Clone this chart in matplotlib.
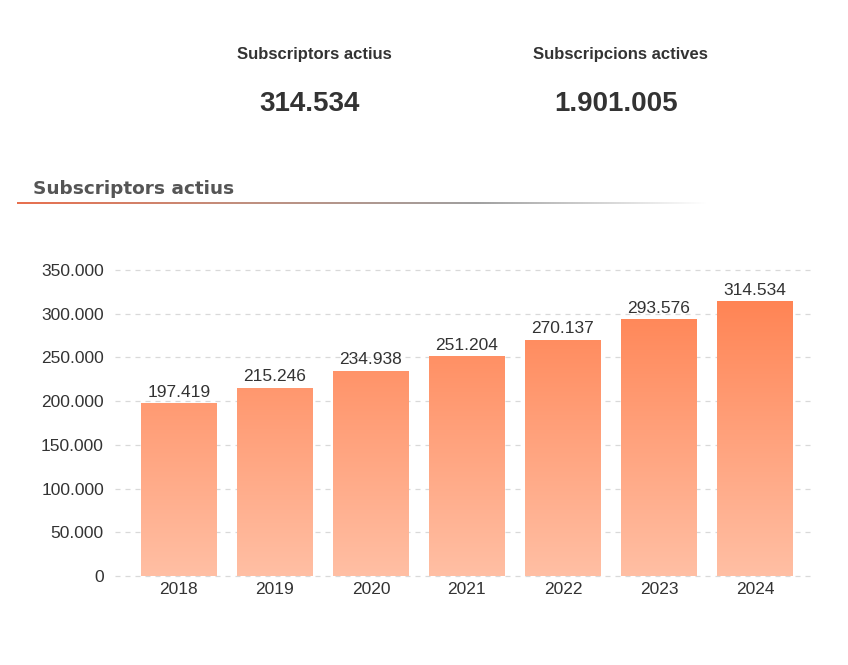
import numpy as np
import matplotlib.pyplot as plt
from matplotlib.colors import LinearSegmentedColormap
from matplotlib.ticker import FuncFormatter

years = ['2018', '2019', '2020', '2021', '2022', '2023', '2024']
subscribers = [197419, 215246, 234938, 251204, 270137, 293576, 314534]
kpi_labels = ['Subscriptors actius', 'Subscripcions actives']
kpi_values = ['314.534', '1.901.005']
section_title = 'Subscriptors actius'

plt.rcParams['font.family'] = ['Liberation Sans', 'DejaVu Sans']


def fmt_dots(v, pos=None):
    return '{:,.0f}'.format(v).replace(',', '.')


fig = plt.figure(figsize=(8.48, 6.65), dpi=100)
fig.patch.set_facecolor('white')

# KPI header (label x, value x in pixels)
kpi_pos = [(314, 310), (620, 616)]
for (lx, vx), lab, val in zip(kpi_pos, kpi_labels, kpi_values):
    fig.text(lx / 848, 1 - 55 / 665, lab, ha='center', va='center', fontsize=12,
             fontweight='bold', color='#333333')
    fig.text(vx / 848, 1 - 104 / 665, val, ha='center', va='center', fontsize=20,
             fontweight='bold', color='#333333')

# section title with gradient underline
fig.text(33 / 848, 1 - 189 / 665, section_title, ha='left', va='center',
         fontsize=13.3, fontweight='bold', color='#555555',
         family=['DejaVu Sans'])
line_ax = fig.add_axes([17 / 848, 1 - 204.5 / 665, 690 / 848, 2.5 / 665])
line_ax.axis('off')
line_cmap = LinearSegmentedColormap.from_list(
    'uline', ['#e8704f', '#c09080', '#a0a0a0', '#ffffff'])
line_ax.imshow(np.linspace(0, 1, 256).reshape(1, -1), cmap=line_cmap,
               aspect='auto', extent=[0, 1, 0, 1])

# bar chart
ax = fig.add_axes([115 / 848, 1 - 576 / 665, 700 / 848, 306 / 665])
x = np.arange(len(years))
bars = ax.bar(x, subscribers, width=0.79, color='none', edgecolor='none', zorder=2)

bar_cmap = LinearSegmentedColormap.from_list('bar', ['#ffbfa4', '#ff7e4c'])
grad = np.linspace(0, 1, 256).reshape(-1, 1)
for b in bars:
    x0 = b.get_x()
    w = b.get_width()
    im = ax.imshow(grad, cmap=bar_cmap, origin='lower', aspect='auto',
                   extent=[x0, x0 + w, 0, 350000], zorder=2)
    im.set_clip_path(b)

for xi, v in zip(x, subscribers):
    ax.text(xi, v + 4000, fmt_dots(v), ha='center', va='bottom',
            fontsize=12.5, color='#333333')

ax.set_xlim(-0.665, 6.625)
ax.set_ylim(0, 350000)
ax.set_yticks(np.arange(0, 350001, 50000))
ax.yaxis.set_major_formatter(FuncFormatter(fmt_dots))
ax.set_xticks(x)
ax.set_xticklabels(years)
ax.tick_params(length=0, labelsize=12.5, colors='#333333')
ax.tick_params(axis='y', pad=8)
ax.tick_params(axis='x', pad=4)
ax.grid(axis='y', color='#d9d9d9', linestyle=(0, (4, 4)), linewidth=0.9,
        zorder=0)
for gl in ax.get_ygridlines():
    gl.set_clip_on(False)
ax.set_axisbelow(True)
for s in ax.spines.values():
    s.set_visible(False)

plt.savefig('out.png', dpi=100)
